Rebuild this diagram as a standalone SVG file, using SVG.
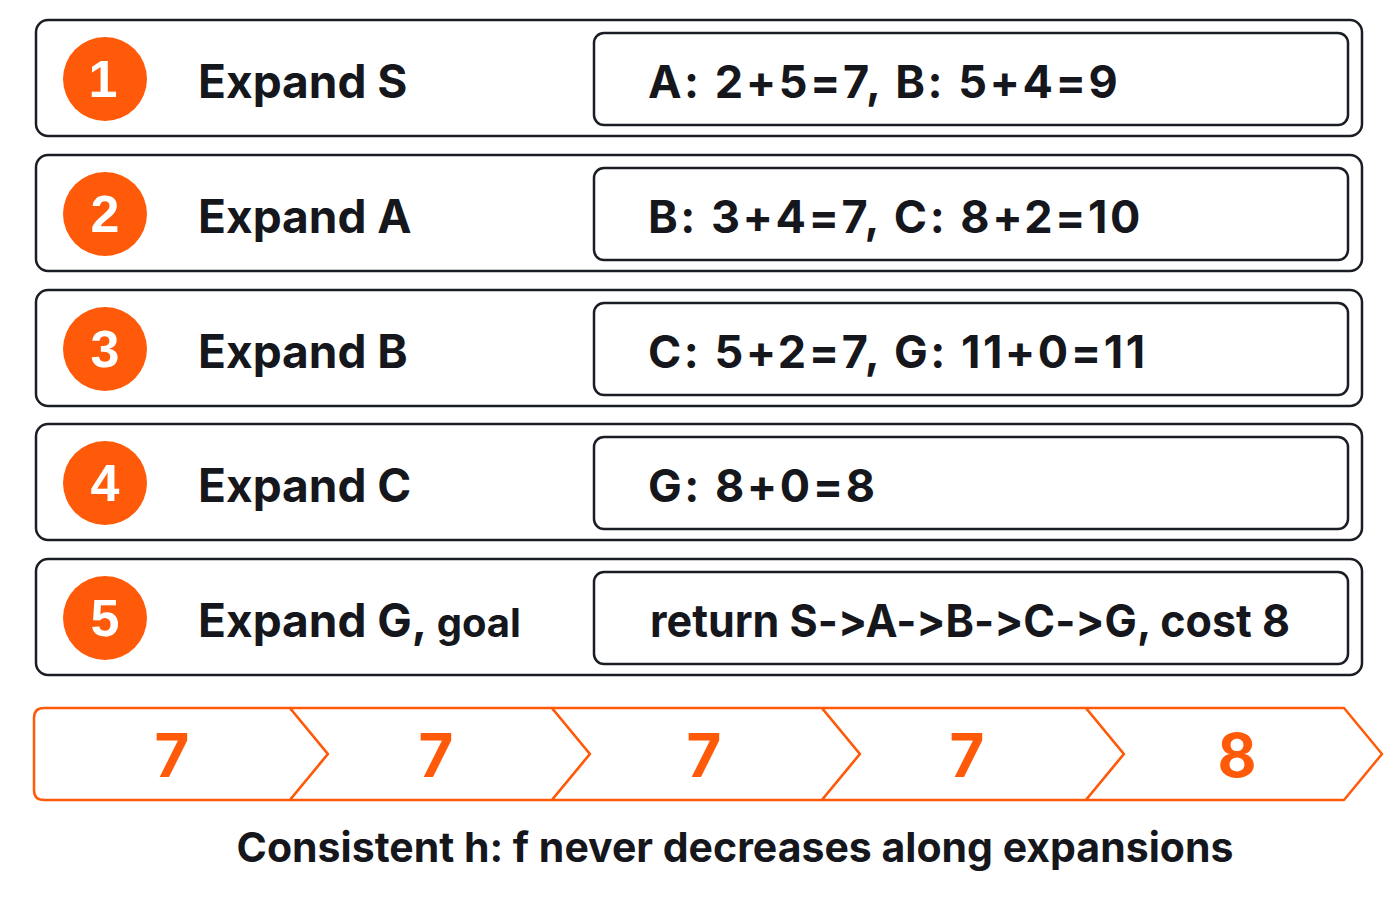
<svg xmlns="http://www.w3.org/2000/svg" width="1400" height="900" viewBox="0 0 1400 900">
<style>
text{font-feature-settings:"calt" 0,"liga" 0;font-variant-ligatures:none}
.outer{fill:#fff;stroke:#1a1d24;stroke-width:2.5}
.inner{fill:#fff;stroke:#1a1d24;stroke-width:2.5}
.dot{fill:#ff5a0a}
.num{font-family:"Liberation Sans",Arial,sans-serif;font-weight:bold;font-size:52px;fill:#fff;text-anchor:middle}
.lbl{font-family:Inter,"Liberation Sans",sans-serif;font-weight:bold;font-size:46px;fill:#15171c}
.sm{font-size:40px}
.val{font-family:Inter,"Liberation Sans",sans-serif;font-weight:bold;font-size:45px;fill:#15171c;letter-spacing:2.5px}
.chev{fill:#fff;stroke:#ff5a0a;stroke-width:2.5;stroke-linejoin:round}
.f{font-family:Inter,"Liberation Sans",sans-serif;font-weight:bold;font-size:60px;fill:#ff5a0a;text-anchor:middle}
.cap{font-family:Inter,"Liberation Sans",sans-serif;font-weight:bold;font-size:41px;fill:#15171c;text-anchor:middle}
</style>
<rect width="1400" height="900" fill="#fff"/>
<g id="row1"><rect class="outer" x="36" y="20" width="1326" height="116" rx="12"/><circle class="dot" cx="105" cy="79" r="42"/><text class="num" x="103" y="97">1</text><text class="lbl" x="198" y="98">Expand S</text><rect class="inner" x="594" y="33" width="754" height="92" rx="10"/><text class="val" x="648" y="98">A: 2+5=7, B: 5+4=9</text></g>
<g id="row2"><rect class="outer" x="36" y="155" width="1326" height="116" rx="12"/><circle class="dot" cx="105" cy="214" r="42"/><text class="num" x="105" y="232">2</text><text class="lbl" x="198" y="233">Expand A</text><rect class="inner" x="594" y="168" width="754" height="92" rx="10"/><text class="val" x="648" y="233">B: 3+4=7, C: 8+2=10</text></g>
<g id="row3"><rect class="outer" x="36" y="290" width="1326" height="116" rx="12"/><circle class="dot" cx="105" cy="349" r="42"/><text class="num" x="105" y="367">3</text><text class="lbl" x="198" y="368">Expand B</text><rect class="inner" x="594" y="303" width="754" height="92" rx="10"/><text class="val" x="648" y="368">C: 5+2=7, G: 11+0=11</text></g>
<g id="row4"><rect class="outer" x="36" y="424" width="1326" height="116" rx="12"/><circle class="dot" cx="105" cy="483" r="42"/><text class="num" x="105" y="501">4</text><text class="lbl" x="198" y="502">Expand C</text><rect class="inner" x="594" y="437" width="754" height="92" rx="10"/><text class="val" x="648" y="502">G: 8+0=8</text></g>
<g id="row5"><rect class="outer" x="36" y="559" width="1326" height="116" rx="12"/><circle class="dot" cx="105" cy="618" r="42"/><text class="num" x="105" y="636">5</text><text class="lbl" x="198" y="637">Expand G, <tspan class="sm">goal</tspan></text><rect class="inner" x="594" y="572" width="754" height="92" rx="10"/><text class="val" x="650" y="637" style="letter-spacing:0" textLength="640" lengthAdjust="spacingAndGlyphs">return S-&gt;A-&gt;B-&gt;C-&gt;G, cost 8</text></g>
<g id="fstrip">
<path class="chev" d="M44 708 H290 L328 754 L290 800 H44 Q34 800 34 790 V718 Q34 708 44 708 Z"/>
<path class="chev" d="M290 708 H552 L590 754 L552 800 H290 L328 754 Z"/>
<path class="chev" d="M552 708 H822 L860 754 L822 800 H552 L590 754 Z"/>
<path class="chev" d="M822 708 H1086 L1124 754 L1086 800 H822 L860 754 Z"/>
<path class="chev" d="M1086 708 H1344 L1382 754 L1344 800 H1086 L1124 754 Z"/>
<text class="f" x="172" y="777">7</text><text class="f" x="436" y="777">7</text><text class="f" x="704" y="777">7</text><text class="f" x="967" y="777">7</text><text class="f" x="1237" y="777">8</text>
</g>
<g id="connectors"/>
<text class="cap" x="735" y="862">Consistent h: f never decreases along expansions</text>
</svg>
